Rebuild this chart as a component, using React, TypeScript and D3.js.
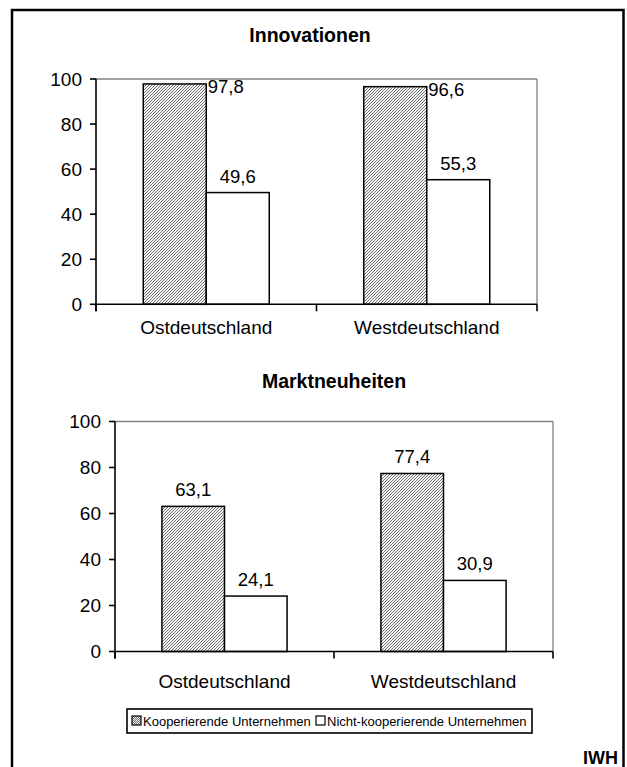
import React from "react";
import * as d3 from "d3";

const regions = ["Ostdeutschland", "Westdeutschland"];
const seriesNames = ["Kooperierende Unternehmen", "Nicht-kooperierende Unternehmen"];
const innovationenKoop = [97.8, 96.6];
const innovationenNicht = [49.6, 55.3];
const marktKoop = [63.1, 77.4];
const marktNicht = [24.1, 30.9];
const yTicks = [0, 20, 40, 60, 80, 100];

const FONT = "'Liberation Sans', Arial, Helvetica, sans-serif";
const fmt = (v: number) => d3.format(".1f")(v).replace(".", ",");

type PanelProps = {
  title: string;
  titleX: number;
  titleY: number;
  koop: number[];
  nicht: number[];
  x0: number;
  x1: number;
  yTop: number;
  yBottom: number;
  catLabelY: number;
};

function Panel({ title, titleX, titleY, koop, nicht, x0, x1, yTop, yBottom, catLabelY }: PanelProps) {
  const x = d3.scaleBand<string>().domain(regions).range([x0, x1]).paddingInner(0).paddingOuter(0);
  const xs = d3
    .scaleBand<string>()
    .domain(seriesNames)
    .range([0, x.bandwidth()])
    .paddingInner(0)
    .paddingOuter(0.75);
  const y = d3.scaleLinear().domain([0, 100]).range([yBottom, yTop]);
  const values = [koop, nicht];
  const tickPositions = [x0, ...regions.map((r) => (x(r) as number) + x.bandwidth())];

  return (
    <g>
      <text x={titleX} y={titleY} textAnchor="middle" fontFamily={FONT} fontWeight="bold" fontSize={19.5}>
        {title}
      </text>
      <line x1={x0} x2={x1} y1={y(100)} y2={y(100)} stroke="#808080" strokeWidth={1.3} />
      <line x1={x1} x2={x1} y1={y(100)} y2={y(0)} stroke="#808080" strokeWidth={1.3} />
      {seriesNames.map((s, si) =>
        regions.map((r, ri) => {
          const v = values[si][ri];
          const bx = (x(r) as number) + (xs(s) as number);
          const bw = xs.bandwidth();
          return (
            <rect
              key={s + r}
              x={bx}
              y={y(v)}
              width={bw}
              height={y(0) - y(v)}
              fill={si === 0 ? "url(#hatch)" : "#ffffff"}
              stroke="#000"
              strokeWidth={1.5}
            />
          );
        })
      )}
      {seriesNames.map((s, si) =>
        regions.map((r, ri) => {
          const v = values[si][ri];
          const bx = (x(r) as number) + (xs(s) as number);
          const bw = xs.bandwidth();
          const above = y(v) - 10;
          const fits = above - 14 > yTop;
          return fits ? (
            <text key={"l" + s + r} x={bx + bw / 2} y={above} textAnchor="middle" fontFamily={FONT} fontSize={18.5}>
              {fmt(v)}
            </text>
          ) : (
            <text key={"l" + s + r} x={bx + bw + 1.5} y={y(v) + 9.5} textAnchor="start" fontFamily={FONT} fontSize={18.5}>
              {fmt(v)}
            </text>
          );
        })
      )}
      <line x1={x0} x2={x0} y1={y(100)} y2={y(0) + 7} stroke="#000" strokeWidth={1.6} />
      {yTicks.map((t) => (
        <g key={t}>
          <line x1={x0 - 6} x2={x0} y1={y(t)} y2={y(t)} stroke="#000" strokeWidth={1.6} />
          <text x={x0 - 14} y={y(t)} dy="0.35em" textAnchor="end" fontFamily={FONT} fontSize={19}>
            {t}
          </text>
        </g>
      ))}
      <line x1={x0} x2={x1} y1={y(0)} y2={y(0)} stroke="#000" strokeWidth={1.6} />
      {tickPositions.map((tp, i) => (
        <line key={i} x1={tp} x2={tp} y1={y(0)} y2={y(0) + 7} stroke="#000" strokeWidth={1.6} />
      ))}
      {regions.map((r) => (
        <text
          key={r}
          x={(x(r) as number) + x.bandwidth() / 2}
          y={catLabelY}
          textAnchor="middle"
          fontFamily={FONT}
          fontSize={19}
        >
          {r}
        </text>
      ))}
    </g>
  );
}

export default function App() {
  return (
    <svg
      width={627}
      height={767}
      style={{ position: "absolute", left: 0, top: 0, background: "#fff" }}
    >
      <defs>
        <pattern id="hatch" width={3} height={3} patternUnits="userSpaceOnUse">
          <rect width={3} height={3} fill="#f4f4f4" />
          <path d="M-1,1 L1,-1 M0,3 L3,0 M2,4 L4,2" stroke="#505050" strokeWidth={0.8} />
        </pattern>
        <pattern id="hatchSmall" width={2} height={2} patternUnits="userSpaceOnUse">
          <rect width={2} height={2} fill="#eee" />
          <path d="M-0.5,0.5 L0.5,-0.5 M0,2 L2,0 M1.5,2.5 L2.5,1.5" stroke="#444" strokeWidth={0.7} />
        </pattern>
      </defs>
      <rect x={12} y={10} width={611.5} height={800} fill="none" stroke="#000" strokeWidth={2.5} />
      <Panel
        title="Innovationen"
        titleX={310}
        titleY={42}
        koop={innovationenKoop}
        nicht={innovationenNicht}
        x0={96}
        x1={537}
        yTop={79}
        yBottom={304.3}
        catLabelY={334}
      />
      <Panel
        title="Marktneuheiten"
        titleX={334}
        titleY={388}
        koop={marktKoop}
        nicht={marktNicht}
        x0={115}
        x1={553}
        yTop={421.5}
        yBottom={651.5}
        catLabelY={688}
      />
      <g>
        <rect x={127} y={709} width={405} height={24} fill="#fff" stroke="#000" strokeWidth={1.6} />
        <rect x={132} y={716} width={9} height={9} fill="url(#hatchSmall)" stroke="#000" strokeWidth={1.2} />
        <text x={143} y={725.5} fontFamily={FONT} fontSize={13}>
          {seriesNames[0]}
        </text>
        <rect x={316} y={716} width={9} height={9} fill="#fff" stroke="#000" strokeWidth={1.2} />
        <text x={327} y={725.5} fontFamily={FONT} fontSize={13}>
          {seriesNames[1]}
        </text>
      </g>
      <text x={618} y={764} textAnchor="end" fontFamily={FONT} fontWeight="bold" fontSize={18}>
        IWH
      </text>
    </svg>
  );
}
